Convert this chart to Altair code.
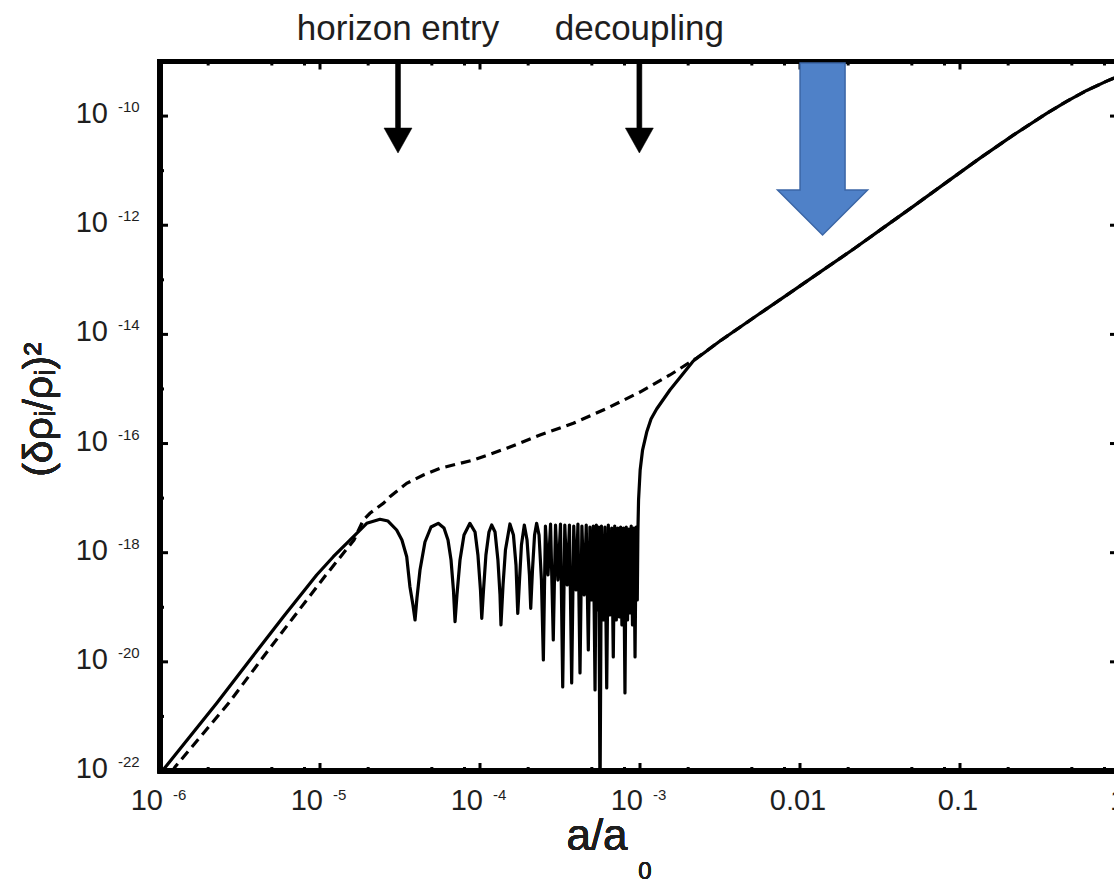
import altair as alt
import pandas as pd

# ---------------- data (log10 values) ----------------
# solid curve: log10(a/a0), log10((δρ/ρ)^2)
solid_log_a = [
    -6.02, -5.981, -5.646, -5.438, -5.229, -5.021, -4.917, -4.813, -4.708, -4.625,
    -4.575, -4.521, -4.488, -4.458, -4.438, -4.419, -4.406,
    -4.394, -4.375, -4.344, -4.306, -4.261, -4.225, -4.200, -4.181, -4.166, -4.156,
    -4.144, -4.125, -4.100, -4.063, -4.031, -4.013, -3.997, -3.989,
    -3.978, -3.963, -3.944, -3.927, -3.906, -3.888, -3.875, -3.869,
    -3.856, -3.841, -3.813, -3.791, -3.775, -3.764,
    -3.753, -3.741, -3.723, -3.706, -3.691, -3.683,
    -3.672, -3.659, -3.646, -3.631, -3.616, -3.604,
    -3.591, -3.575, -3.559, -3.542, -3.528, -3.513, -3.497, -3.483,
    -3.470, -3.455, -3.441, -3.427, -3.414, -3.400, -3.388, -3.375,
    -3.363, -3.349, -3.336, -3.323, -3.313, -3.302, -3.292, -3.281,
    -3.273, -3.266, -3.258, -3.250, -3.241, -3.229, -3.219, -3.208,
    -3.198, -3.188, -3.177, -3.167, -3.158, -3.148, -3.139, -3.129,
    -3.121, -3.113, -3.103, -3.094, -3.086, -3.078, -3.070, -3.063,
    -3.055, -3.047, -3.039, -3.031, -3.024, -3.017,
    -3.013, -3.009, -2.999, -2.984, -2.958, -2.931, -2.896, -2.813,
    -2.667, -2.500, -2.292, -2.083, -1.875, -1.667, -1.500, -1.292,
    -1.083, -0.875, -0.667, -0.458, -0.333, -0.208, -0.083, -0.044, 0.000,
]
solid_log_y = [
    -22.07, -21.982, -20.760, -19.966, -19.173, -18.409, -18.074, -17.768, -17.462, -17.388,
    -17.420, -17.584, -17.768, -18.074, -18.623, -18.959, -19.233,
    -18.830, -18.317, -17.804, -17.529, -17.462, -17.548, -17.768, -18.134, -18.684, -19.265,
    -18.775, -18.134, -17.676, -17.462, -17.621, -18.042, -18.684, -19.202,
    -18.684, -18.042, -17.621, -17.493, -17.621, -18.134, -18.775, -19.325,
    -18.592, -17.951, -17.474, -17.676, -18.226, -19.111,
    -18.501, -17.859, -17.493, -17.768, -18.409, -19.019,
    -18.317, -17.676, -17.462, -17.676, -18.501, -19.966,
    -17.511, -18.409, -17.474, -19.600, -17.493, -18.501, -17.474, -20.461,
    -17.493, -18.592, -17.493, -20.388, -17.511, -18.684, -17.474, -20.204,
    -17.511, -18.775, -17.493, -19.783, -17.529, -18.867, -17.511, -20.516,
    -17.493, -19.050, -17.529, -22.600, -17.511, -19.233, -17.529, -20.479,
    -17.493, -19.142, -17.548, -19.911, -17.511, -19.233, -17.548, -19.178,
    -17.529, -19.325, -17.548, -20.571, -17.529, -19.233, -17.566, -19.105,
    -17.511, -19.325, -17.548, -19.911, -17.529, -18.867,
    -17.584, -17.035, -16.485, -16.119, -15.789, -15.551, -15.367, -15.019,
    -14.488, -14.122, -13.700, -13.280, -12.860, -12.440, -12.090, -11.655,
    -11.210, -10.770, -10.350, -9.950, -9.730, -9.530, -9.360, -9.310, -9.260,
]

# dashed curve (hidden under the solid one after about a = 2e-3)
dashed_log_a = [
    -5.925, -5.906, -5.572, -5.369, -5.163, -4.963, -4.788, -4.729, -4.688,
    -4.604, -4.563, -4.458, -4.354, -4.250, -4.042, -3.833, -3.625, -3.417,
    -3.208, -3.000, -2.813, -2.646,
    -2.500, -2.292, -2.083, -1.875, -1.667, -1.500, -1.292, -1.083, -0.875,
    -0.667, -0.458, -0.333, -0.208, -0.083, -0.044, 0.000,
]
dashed_log_y = [
    -22.018, -21.927, -20.760, -19.966, -19.173, -18.409, -17.768, -17.401, -17.278,
    -17.095, -16.974, -16.729, -16.577, -16.454, -16.302, -16.087, -15.844, -15.629,
    -15.358, -15.056, -14.744, -14.433,
    -14.122, -13.700, -13.280, -12.860, -12.440, -12.090, -11.655, -11.210, -10.770,
    -10.350, -9.950, -9.730, -9.530, -9.360, -9.310, -9.260,
]

# axes
y_major_exp = [-22, -20, -18, -16, -14, -12, -10]
y_minor_exp = [-21, -19, -17, -15, -13, -11]
x_major_exp = [-6, -5, -4, -3, -2, -1]
x_power_exp = [-6, -5, -4, -3]
x_decimal_vals = [0.01, 0.1, 1.0]
x_decimal_text = ["0.01", "0.1", "1"]
x_minor_mult = [2, 5, 8]

# annotations
annot_text = ["horizon entry", "decoupling"]
annot_log_a = [-4.5125, -3.004]
annot_arrow_log_y = [-9.834, -9.834]
blue_log_a = [-1.859]
blue_log_y = [-10.603]

# ---------------- chart ----------------
W, H = 954, 709.5
FONT = "Liberation Sans"
TXT = "#1e1e1e"
XMAX = 10 ** (-6 + W / 160.0)

xs = alt.Scale(type="log", domain=[1e-6, XMAX])
ys = alt.Scale(type="log", domain=[1e-22, 1e-9])


def X(f):
    return alt.X(f, type="quantitative", scale=xs, axis=None)


def Y(f):
    return alt.Y(f, type="quantitative", scale=ys, axis=None)


solid = pd.DataFrame({"a": [10 ** v for v in solid_log_a],
                      "y": [10 ** v for v in solid_log_y]})
dashed = pd.DataFrame({"a": [10 ** v for v in dashed_log_a],
                       "y": [10 ** v for v in dashed_log_y]})

ymaj = pd.DataFrame({"v": [10.0 ** e for e in y_major_exp],
                     "sup": [str(e) for e in y_major_exp]})
ymin = pd.DataFrame({"v": [10.0 ** e for e in y_minor_exp]})
xmaj = pd.DataFrame({"v": [10.0 ** e for e in x_major_exp]})
xmin = pd.DataFrame({"v": [m * 10.0 ** e for e in x_major_exp for m in x_minor_mult]})
xpow = pd.DataFrame({"v": [10.0 ** e for e in x_power_exp],
                     "sup": [str(e) for e in x_power_exp]})
xdec = pd.DataFrame({"v": x_decimal_vals, "t": x_decimal_text})
ann = pd.DataFrame({"a": [10 ** v for v in annot_log_a],
                    "y": [10 ** v for v in annot_arrow_log_y],
                    "t": annot_text})
blue = pd.DataFrame({"a": [10 ** v for v in blue_log_a],
                     "y": [10 ** v for v in blue_log_y]})

layers = []

# curves
layers.append(alt.Chart(dashed).mark_line(color="black", strokeWidth=3.2,
                                          strokeDash=[10, 6], clip=True)
              .encode(x=X("a"), y=Y("y")))
layers.append(alt.Chart(solid).mark_line(color="black", strokeWidth=3.2,
                                         strokeJoin="round", clip=True)
              .encode(x=X("a"), y=Y("y")))

# ticks (inward, all four sides)
tk = dict(color="black", strokeWidth=3)
layers.append(alt.Chart(ymaj).mark_rule(**tk).encode(y=Y("v"), x=alt.value(0), x2=alt.value(8)))
layers.append(alt.Chart(ymin).mark_rule(**tk).encode(y=Y("v"), x=alt.value(0), x2=alt.value(4)))
layers.append(alt.Chart(ymaj).mark_rule(**tk).encode(y=Y("v"), x=alt.value(950), x2=alt.value(960)))
layers.append(alt.Chart(ymin).mark_rule(**tk).encode(y=Y("v"), x=alt.value(954), x2=alt.value(960)))
layers.append(alt.Chart(xmaj).mark_rule(**tk).encode(x=X("v"), y=alt.value(H), y2=alt.value(H - 8)))
layers.append(alt.Chart(xmin).mark_rule(**tk).encode(x=X("v"), y=alt.value(H), y2=alt.value(H - 4)))
layers.append(alt.Chart(xmaj).mark_rule(**tk).encode(x=X("v"), y=alt.value(0), y2=alt.value(8)))
layers.append(alt.Chart(xmin).mark_rule(**tk).encode(x=X("v"), y=alt.value(0), y2=alt.value(4)))

# frame (left, top, bottom)
fr = dict(color="black", strokeWidth=5)
layers.append(alt.Chart(ymaj).mark_rule(**fr).encode(x=alt.value(0), y=alt.value(0), y2=alt.value(H)))
layers.append(alt.Chart(ymaj).mark_rule(**fr).encode(y=alt.value(0), x=alt.value(-2.5), x2=alt.value(970)))
layers.append(alt.Chart(ymaj).mark_rule(**fr).encode(y=alt.value(H), x=alt.value(-2.5), x2=alt.value(970)))

# y tick labels 10^n
layers.append(alt.Chart(ymaj).mark_text(text="10", align="right", baseline="alphabetic",
                                        dy=7, fontSize=29, font=FONT, color=TXT)
              .encode(y=Y("v"), x=alt.value(-52)))
layers.append(alt.Chart(ymaj).mark_text(align="left", baseline="alphabetic",
                                        dy=-4, fontSize=15, font=FONT, color=TXT)
              .encode(y=Y("v"), x=alt.value(-42), text="sup:N"))
# x tick labels
layers.append(alt.Chart(xpow).mark_text(text="10", align="right", baseline="alphabetic",
                                        dx=3, fontSize=29, font=FONT, color=TXT)
              .encode(x=X("v"), y=alt.value(H + 39)))
layers.append(alt.Chart(xpow).mark_text(align="left", baseline="alphabetic",
                                        dx=13, fontSize=15, font=FONT, color=TXT)
              .encode(x=X("v"), y=alt.value(H + 29), text="sup:N"))
layers.append(alt.Chart(xdec).mark_text(align="center", baseline="alphabetic",
                                        dx=-2, fontSize=29, font=FONT, color=TXT)
              .encode(x=X("v"), y=alt.value(H + 39), text="t:N"))

# axis titles
layers.append(alt.Chart(ymaj).mark_text(text="a/a", align="center", baseline="alphabetic",
                                        fontSize=44, font=FONT, color=TXT)
              .encode(x=alt.value(437), y=alt.value(788.5)))
layers.append(alt.Chart(ymaj).mark_text(text="0", align="center", baseline="alphabetic",
                                        fontSize=24, font=FONT, color=TXT)
              .encode(x=alt.value(485), y=alt.value(817)))
layers.append(alt.Chart(ymaj).mark_text(text="(δρᵢ/ρᵢ)²", align="center", baseline="middle",
                                        angle=270, fontSize=41, font=FONT, color=TXT)
              .encode(x=alt.value(-120), y=alt.value(348)))

# annotation labels and arrows
layers.append(alt.Chart(ann).mark_text(align="center", baseline="alphabetic",
                                       fontSize=35, font=FONT, color=TXT)
              .encode(x=X("a"), y=alt.value(-21.5), text="t:N"))
black_arrow = "M-0.05,-0.92L0.05,-0.92L0.05,0.42L0.28,0.42L0,0.92L-0.28,0.42L-0.05,0.42Z"
layers.append(alt.Chart(ann).mark_point(shape=black_arrow, size=10000, filled=True,
                                        fill="black", stroke="black", strokeWidth=0.5, opacity=1)
              .encode(x=X("a"), y=Y("y")))
blue_arrow = "M-0.25,-0.956L0.25,-0.956L0.25,0.456L0.5,0.456L0,0.956L-0.5,0.456L-0.25,0.456Z"
layers.append(alt.Chart(blue).mark_point(shape=blue_arrow, size=32400, filled=True,
                                         fill="#4f81c8", stroke="#3b66a6", strokeWidth=1.5,
                                         opacity=1)
              .encode(x=X("a"), y=Y("y")))

chart = alt.layer(*layers).properties(
    width=W, height=H,
    autosize=alt.AutoSizeParams(type="none"),
    padding={"left": 160, "top": 61.5, "right": 0, "bottom": 113},
    background="white",
).configure_view(strokeWidth=0)

chart.save("out.html", embed_options={"renderer": "svg", "actions": False})
